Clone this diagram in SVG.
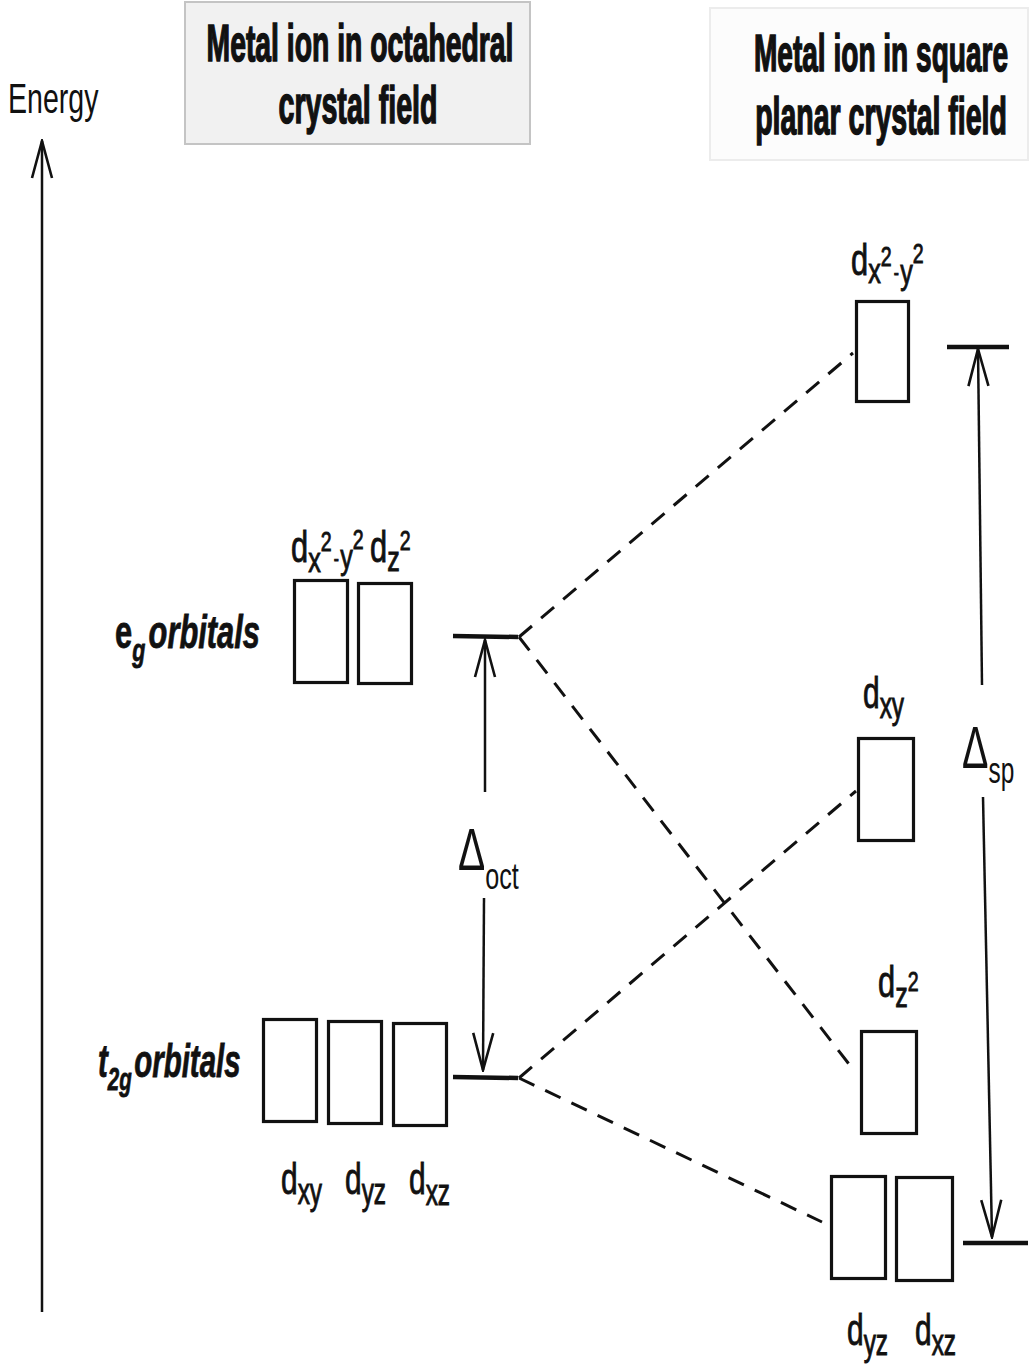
<svg xmlns="http://www.w3.org/2000/svg" width="1030" height="1364" viewBox="0 0 1030 1364">
  <defs>
    <style>
      .t { font-family: "Liberation Sans", Arial, sans-serif; fill: #111; }
      .title { font-size: 52px; font-weight: bold; stroke: #111; stroke-width: 1.6; text-anchor: middle; }
      .lbl { font-size: 44px; stroke: #111; stroke-width: 0.9; }
      .sub { font-size: 36px; }
      .sup { font-size: 28px; }
      .dash-c { font-size: 22px; }
      .orb { font-size: 46px; font-weight: bold; stroke: #111; stroke-width: 0.8; }
      .orb .it { font-style: italic; }
      .orb .osub { font-size: 32px; font-style: italic; }
      .delta { font-size: 60px; }
      .delta .dsub { font-size: 37px; }
      .box { fill: none; stroke: #111; stroke-width: 3.2; }
      .level { stroke: #111; stroke-width: 4.5; fill: none; }
      .arrow { stroke: #111; stroke-width: 2.5; fill: none; }
      .dash { stroke: #111; stroke-width: 3; fill: none; stroke-dasharray: 17 12; }
    </style>
    <marker id="vhead" markerUnits="userSpaceOnUse" viewBox="0 0 40 24" markerWidth="40" markerHeight="24" refX="38" refY="12" orient="auto">
      <path d="M1,2 L38,12 L1,22" fill="none" stroke="#111" stroke-width="2.6"/>
    </marker>
  </defs>

  <rect width="1030" height="1364" fill="#ffffff"/>

  <!-- column headings -->
  <g id="title-octahedral">
    <rect x="185" y="2" width="345" height="142" fill="#f1f1f1" stroke="#c4c4c4" stroke-width="2"/>
    <text class="t title" transform="translate(360,61) scale(0.545,1)">Metal ion in octahedral</text>
    <text class="t title" transform="translate(358,123) scale(0.55,1)">crystal field</text>
  </g>
  <g id="title-square-planar">
    <rect x="710" y="8" width="318" height="152" fill="#fcfcfc" stroke="#ececec" stroke-width="2"/>
    <text class="t title" transform="translate(881,71) scale(0.54,1)">Metal ion in square</text>
    <text class="t title" transform="translate(881,134) scale(0.548,1)">planar crystal field</text>
  </g>

  <!-- energy axis -->
  <g id="energy-axis">
    <text class="t" font-size="42" transform="translate(8,113) scale(0.68,1)">Energy</text>
    <line class="arrow" x1="42" y1="1312" x2="42" y2="141" marker-end="url(#vhead)"/>
  </g>

  <!-- eg pair, octahedral field -->
  <g id="eg-orbitals">
    <text class="t orb" transform="translate(115,648) scale(0.67,1)">e<tspan class="osub" dy="13">g</tspan><tspan class="it" dy="-13" dx="5">orbitals</tspan></text>
    <rect class="box" x="294.5" y="580.5" width="53" height="102"/>
    <rect class="box" x="358.5" y="583.5" width="53" height="100"/>
    <text class="t lbl" transform="translate(291,562) scale(0.7,1)">d<tspan class="sub" dy="10">x</tspan><tspan class="sup" dy="-21">2</tspan><tspan class="dash-c" dy="15" dx="3">-</tspan><tspan class="sub" dy="3" dx="2">y</tspan><tspan class="sup" dy="-20">2</tspan></text>
    <text class="t lbl" transform="translate(370,562) scale(0.7,1)">d<tspan class="sub" dy="9">z</tspan><tspan class="sup" dy="-21">2</tspan></text>
    <line class="level" x1="453" y1="636" x2="518" y2="637"/>
  </g>

  <!-- t2g set, octahedral field -->
  <g id="t2g-orbitals">
    <text class="t orb" transform="translate(98,1077) scale(0.64,1)"><tspan class="it">t</tspan><tspan class="osub" dy="13">2g</tspan><tspan class="it" dy="-13" dx="4">orbitals</tspan></text>
    <rect class="box" x="263.5" y="1019.5" width="53" height="102"/>
    <rect class="box" x="328.5" y="1021.5" width="53" height="102"/>
    <rect class="box" x="393.5" y="1023.5" width="53" height="102"/>
    <text class="t lbl" transform="translate(281,1194) scale(0.68,1)">d<tspan class="sub" dy="10">xy</tspan></text>
    <text class="t lbl" transform="translate(345,1194) scale(0.68,1)">d<tspan class="sub" dy="10">yz</tspan></text>
    <text class="t lbl" transform="translate(409,1194) scale(0.68,1)">d<tspan class="sub" dy="11">xz</tspan></text>
    <line class="level" x1="453" y1="1077" x2="518" y2="1078"/>
  </g>

  <!-- octahedral splitting gap -->
  <g id="delta-oct">
    <line class="arrow" x1="485" y1="792" x2="485" y2="640" marker-end="url(#vhead)"/>
    <line class="arrow" x1="484" y1="898" x2="483" y2="1070" marker-end="url(#vhead)"/>
    <text class="t delta" transform="translate(458,870) scale(0.68,1)">Δ<tspan class="dsub" dy="19">oct</tspan></text>
  </g>

  <!-- square planar levels -->
  <g id="dx2-y2">
    <rect class="box" x="856.5" y="301.5" width="52" height="100"/>
    <text class="t lbl" transform="translate(851,275) scale(0.7,1)">d<tspan class="sub" dy="8">x</tspan><tspan class="sup" dy="-17">2</tspan><tspan class="dash-c" dy="14" dx="3">-</tspan><tspan class="sub" dy="4" dx="2">y</tspan><tspan class="sup" dy="-21">2</tspan></text>
  </g>
  <g id="dxy">
    <rect class="box" x="858.5" y="738.5" width="55" height="102"/>
    <text class="t lbl" transform="translate(863,708) scale(0.68,1)">d<tspan class="sub" dy="10">xy</tspan></text>
  </g>
  <g id="dz2">
    <rect class="box" x="861.5" y="1031.5" width="55" height="102"/>
    <text class="t lbl" transform="translate(878,997) scale(0.7,1)">d<tspan class="sub" dy="10">z</tspan><tspan class="sup" dy="-16">2</tspan></text>
  </g>
  <g id="dyz-dxz">
    <rect class="box" x="831.5" y="1176.5" width="54" height="102"/>
    <rect class="box" x="896.5" y="1177.5" width="56" height="103"/>
    <text class="t lbl" transform="translate(847,1345) scale(0.68,1)">d<tspan class="sub" dy="10">yz</tspan></text>
    <text class="t lbl" transform="translate(915,1345) scale(0.68,1)">d<tspan class="sub" dy="10">xz</tspan></text>
  </g>

  <!-- square planar splitting gap -->
  <g id="delta-sp">
    <line class="level" x1="947" y1="347" x2="1009" y2="347"/>
    <line class="level" x1="963" y1="1243" x2="1028" y2="1243"/>
    <line class="arrow" x1="982" y1="685" x2="978" y2="349" marker-end="url(#vhead)"/>
    <line class="arrow" x1="983" y1="797" x2="992" y2="1237" marker-end="url(#vhead)"/>
    <text class="t delta" transform="translate(962,768) scale(0.66,1)">Δ<tspan class="dsub" dy="15">sp</tspan></text>
  </g>

  <!-- correlation lines between the two fields -->
  <g id="connectors">
    <line class="dash" x1="519" y1="637" x2="853" y2="353"/>
    <line class="dash" x1="519" y1="637" x2="852" y2="1068"/>
    <line class="dash" x1="519" y1="1078" x2="856" y2="791"/>
    <line class="dash" x1="519" y1="1078" x2="822" y2="1222"/>
  </g>
</svg>
